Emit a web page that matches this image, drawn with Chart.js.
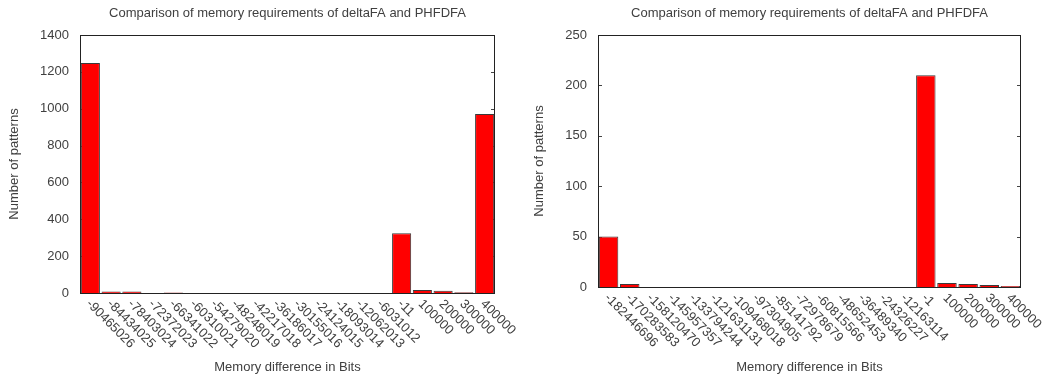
<!DOCTYPE html>
<html>
<head>
<meta charset="utf-8">
<script src="https://cdn.jsdelivr.net/npm/chart.js@4/dist/chart.umd.min.js"></script>
<style>
  body { margin: 0; background: #fff; }
  .wrap { position: relative; width: 1051px; height: 378px; }
  canvas { position: absolute; top: 0; }
</style>
</head>
<body>
<div class="wrap">
  <canvas id="leftChart" width="525" height="378" style="left:0"></canvas>
  <canvas id="rightChart" width="526" height="378" style="left:525px"></canvas>
</div>
<script>
const chartTitle = 'Comparison of memory requirements of deltaFA and PHFDFA';
const xTitle = 'Memory difference in Bits';
const yTitle = 'Number of patterns';

const leftLabels = ['-90465026', '-84434025', '-78403024', '-72372023', '-66341022', '-60310021',
  '-54279020', '-48248019', '-42217018', '-36186017', '-30155016', '-24124015', '-18093014',
  '-12062013', '-6031012', '-11', '100000', '200000', '300000', '400000'];
const leftCounts = [1248, 8, 8, 0, 3, 0, 0, 0, 0, 0, 0, 0, 0, 0, 0, 324, 16, 12, 4, 971];

const rightLabels = ['-182446696', '-170283583', '-158120470', '-145957357', '-133794244', '-121631131',
  '-109468018', '-97304905', '-85141792', '-72978679', '-60815566', '-48652453', '-36489340',
  '-24326227', '-12163114', '-1', '100000', '200000', '300000', '400000'];
const rightCounts = [50, 3, 0, 0, 0, 0, 0, 0, 0, 0, 0, 0, 0, 0, 0, 210, 4, 3, 2, 1];

const FONT = 'Liberation Sans, Arial, sans-serif';
const TEXT = '#404040';

// gnuplot-ish frame: inward ticks, border box, centred title, slanted x labels
const frame = {
  id: 'frame',
  beforeDatasetsDraw(chart) {
    const { ctx, chartArea: a } = chart;
    const y = chart.scales.y;
    ctx.save();
    ctx.strokeStyle = '#444';
    ctx.lineWidth = 1;
    y.ticks.forEach(t => {
      const py = Math.round(y.getPixelForValue(t.value)) + 0.5;
      ctx.beginPath();
      ctx.moveTo(a.left, py); ctx.lineTo(a.left + 4, py);
      ctx.moveTo(a.right, py); ctx.lineTo(a.right - 4, py);
      ctx.stroke();
    });
    ctx.restore();
  },
  afterDraw(chart) {
    const { ctx, chartArea: a } = chart;
    const x = chart.scales.x;
    ctx.save();
    ctx.strokeStyle = '#222';
    ctx.lineWidth = 1;
    ctx.strokeRect(Math.round(a.left) + 0.5, Math.round(a.top) + 0.5,
      Math.round(a.right - a.left) - 1, Math.round(a.bottom - a.top));

    ctx.fillStyle = TEXT;
    ctx.font = '13px ' + FONT;
    ctx.textAlign = 'center';
    ctx.textBaseline = 'middle';
    ctx.fillText(chartTitle, (a.left + a.right) / 2, 13);

    ctx.textAlign = 'left';
    chart.data.labels.forEach((lab, i) => {
      const px = x.getPixelForValue(i);
      ctx.save();
      ctx.translate(px - 2, a.bottom + 9);
      ctx.rotate(Math.PI / 4);
      ctx.fillText(lab, 0, 0);
      ctx.restore();
    });
    ctx.restore();
  }
};

function makeChart(id, labels, counts, yMax, yStep, area) {
  const canvas = document.getElementById(id);
  return new Chart(canvas.getContext('2d'), {
    type: 'bar',
    data: {
      labels: labels,
      datasets: [{
        data: counts,
        backgroundColor: '#ff0000',
        borderColor: '#3a3a3a',
        borderWidth: 1,
        categoryPercentage: 1,
        barPercentage: 0.92,
      }],
    },
    options: {
      responsive: false,
      animation: false,
      layout: { padding: { left: 0, top: area.top, right: canvas.width - area.right, bottom: 0 } },
      plugins: { legend: { display: false }, tooltip: { enabled: false } },
      scales: {
        x: {
          grid: { display: false },
          border: { display: false },
          ticks: { display: false },
          title: { display: true, text: xTitle, color: TEXT, font: { family: FONT, size: 13 }, padding: { top: 0, bottom: 3 } },
          afterFit: s => { s.height = canvas.height - area.bottom; },
        },
        y: {
          min: 0,
          max: yMax,
          grid: { display: false },
          border: { display: false },
          ticks: { stepSize: yStep, padding: 3, color: TEXT, font: { family: FONT, size: 13 }, callback: v => String(v) },
          title: { display: true, text: yTitle, color: TEXT, font: { family: FONT, size: 13 }, padding: { top: 7, bottom: 0 } },
          afterFit: s => { s.width = area.left; },
        },
      },
    },
    plugins: [frame],
  });
}

makeChart('leftChart', leftLabels, leftCounts, 1400, 200, { left: 80, top: 35, right: 495, bottom: 293 });
makeChart('rightChart', rightLabels, rightCounts, 250, 50, { left: 73, top: 35, right: 496, bottom: 287 });
</script>
</body>
</html>
